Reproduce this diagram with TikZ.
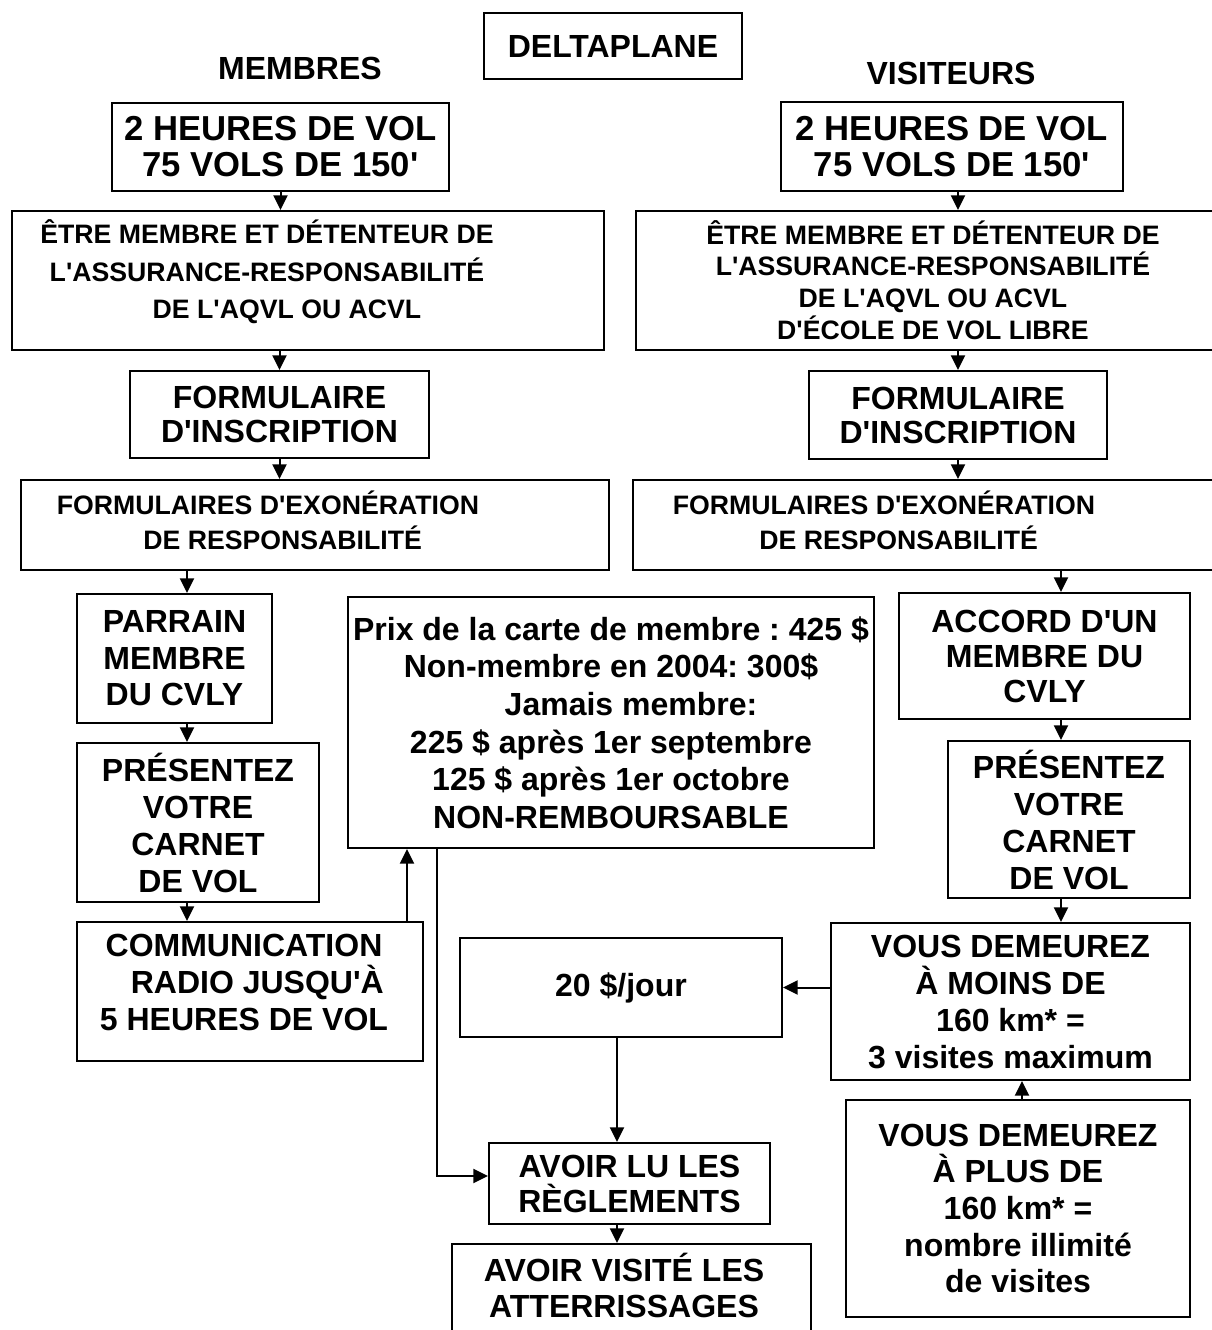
\documentclass[tikz,border=0pt]{standalone}
\usepackage{fontspec}
\setmainfont{Liberation Sans}
\usetikzlibrary{arrows.meta}
\newcommand{\apos}{\textquotesingle}
\frenchspacing

\tikzset{
  box/.style={draw, line width=1.5pt, inner sep=0pt, align=center},
  texte/.style={inner sep=0pt, align=center},
  fnt/.style 2 args={font=\bfseries\fontsize{#1}{#2}\selectfont}
}

\begin{document}
\begin{tikzpicture}[x=0.75pt, y=-0.75pt, line width=1.5pt, >={Triangle[width=10.5pt,length=11pt]}]
    \useasboundingbox (0,0) rectangle (1211,1330);

    % titres
    \node[box, fnt={24}{28}, minimum width=193.5pt, minimum height=49.5pt] (titre) at (613,46) {DELTAPLANE};
    \node[texte, fnt={24}{28}] (membres) at (300,68) {MEMBRES};
    \node[texte, fnt={24}{28}] (visiteurs) at (951,73) {VISITEURS};

    % colonne des membres
    \node[box, fnt={26}{27}, minimum width=252.75pt, minimum height=66pt] (heuresG) at (280.5,147) {2 HEURES DE VOL\\75 VOLS DE 150\apos{}};
    \node[box, minimum width=444pt, minimum height=104.25pt] (etreG) at (308,280.5) {};
    \node[texte, fnt={20}{28}] (etreG-t) at (267,272) {ÊTRE MEMBRE ET DÉTENTEUR DE\\L\apos{}ASSURANCE-RESPONSABILITÉ\\\hspace*{30pt}DE L\apos{}AQVL OU ACVL};
    \node[box, fnt={24}{25.5}, minimum width=224.25pt, minimum height=65.25pt] (formG) at (279.5,414.5) {FORMULAIRE\\D\apos{}INSCRIPTION};
    \node[box, minimum width=441pt, minimum height=67.5pt] (exoG) at (315,525) {};
    \node[texte, fnt={20}{26.25}] (exoG-t) at (268,520) {FORMULAIRES D\apos{}EXONÉRATION\\\hspace*{22pt}DE RESPONSABILITÉ};
    \node[box, fnt={24}{27.4}, minimum width=146.25pt, minimum height=96.75pt] (parrain) at (174.5,658.5) {PARRAIN\\MEMBRE\\DU CVLY};
    \node[box, fnt={24}{27.75}, minimum width=181.5pt, minimum height=119.25pt] (carnetG) at (198,822.5) {PRÉSENTEZ\\VOTRE\\CARNET\\DE VOL};
    \node[box, minimum width=259.5pt, minimum height=104.25pt] (radio) at (250,991.5) {};
    \node[texte, fnt={24}{27.75}] (radio-t) at (244,982) {COMMUNICATION\\\hspace*{20pt}RADIO JUSQU\apos{}À\\5 HEURES DE VOL};

    % tarifs
    \node[box, fnt={24}{28.2}, minimum width=394.5pt, minimum height=188.25pt] (prix) at (611,722.5) {Prix de la carte de membre : 425 \$\\Non-membre en 2004: 300\$\\\hspace*{30pt}Jamais membre:\\225 \$ après 1er septembre\\125 \$ après 1er octobre\\NON-REMBOURSABLE};
    \node[box, fnt={24}{28}, minimum width=241.5pt, minimum height=74.25pt] (jour) at (621,987.5) {20 \$/jour};
    \node[box, fnt={24}{26.25}, minimum width=210.75pt, minimum height=60.75pt] (reglements) at (629.5,1183.5) {AVOIR LU LES\\RÈGLEMENTS};
    \node[box, minimum width=269.25pt, minimum height=87pt] (atterr) at (631.5,1302) {};
    \node[texte, fnt={24}{27}] (atterr-t) at (624,1285) {AVOIR VISITÉ LES\\ATTERRISSAGES};

    % colonne des visiteurs
    \node[box, fnt={26}{27}, minimum width=256.5pt, minimum height=66.75pt] (heuresD) at (952,146.5) {2 HEURES DE VOL\\75 VOLS DE 150\apos{}};
    \node[box, minimum width=445.5pt, minimum height=104.25pt] (etreD) at (933,280.5) {};
    \node[texte, fnt={20}{23.8}] (etreD-t) at (933,280) {ÊTRE MEMBRE ET DÉTENTEUR DE\\L\apos{}ASSURANCE-RESPONSABILITÉ\\DE L\apos{}AQVL OU ACVL\\D\apos{}ÉCOLE DE VOL LIBRE};
    \node[box, fnt={24}{25.5}, minimum width=223.5pt, minimum height=66pt] (formD) at (958,415) {FORMULAIRE\\D\apos{}INSCRIPTION};
    \node[box, minimum width=447.75pt, minimum height=67.5pt] (exoD) at (931.5,525) {};
    \node[texte, fnt={20}{26.25}] (exoD-t) at (884,520) {FORMULAIRES D\apos{}EXONÉRATION\\\hspace*{22pt}DE RESPONSABILITÉ};
    \node[box, fnt={24}{26.25}, minimum width=218.25pt, minimum height=94.5pt] (accord) at (1044.5,656) {ACCORD D\apos{}UN\\MEMBRE DU\\CVLY};
    \node[box, fnt={24}{27.75}, minimum width=181.5pt, minimum height=117.75pt] (carnetD) at (1069,819.5) {PRÉSENTEZ\\VOTRE\\CARNET\\DE VOL};
    \node[box, fnt={24}{27.75}, minimum width=269.25pt, minimum height=117.75pt] (moins) at (1010.5,1001.5) {VOUS DEMEUREZ\\À MOINS DE\\160 km* =\\3 visites maximum};
    \node[box, fnt={24}{27.4}, minimum width=258pt, minimum height=162.75pt] (plus) at (1018,1208.5) {VOUS DEMEUREZ\\À PLUS DE\\160 km* =\\nombre illimité\\de visites};

    % fleches
    \coordinate (colG) at (187,0);
    \coordinate (colD) at (1061,0);
    \coordinate (colM) at (617,0);
    \coordinate (colV) at (1022,0);
    \coordinate (montee) at (407,0);
    \coordinate (coude) at (437,1176);

    \draw[->] (heuresG.south) -- (heuresG.south |- etreG.north);
    \draw[->] (formG.north |- etreG.south) -- (formG.north);
    \draw[->] (formG.south) -- (formG.south |- exoG.north);
    \draw[->] (exoG.south -| colG) -- (parrain.north -| colG);
    \draw[->] (parrain.south -| colG) -- (carnetG.north -| colG);
    \draw[->] (carnetG.south -| colG) -- (radio.north -| colG);
    \draw[->] (radio.north -| montee) -- (prix.south -| montee);
    \draw[->] (prix.south -| coude) -- (coude) -- (coude -| reglements.west);

    \draw[->] (heuresD.south -| formD) -- (etreD.north -| formD);
    \draw[->] (formD.north |- etreD.south) -- (formD.north);
    \draw[->] (formD.south) -- (formD.south |- exoD.north);
    \draw[->] (exoD.south -| colD) -- (accord.north -| colD);
    \draw[->] (accord.south -| colD) -- (carnetD.north -| colD);
    \draw[->] (carnetD.south -| colD) -- (moins.north -| colD);
    \draw[->] (moins.west |- jour) -- (jour.east);
    \draw[->] (plus.north -| colV) -- (moins.south -| colV);

    \draw[->] (jour.south -| colM) -- (reglements.north -| colM);
    \draw[->] (reglements.south -| colM) -- (atterr.north -| colM);
\end{tikzpicture}
\end{document}
